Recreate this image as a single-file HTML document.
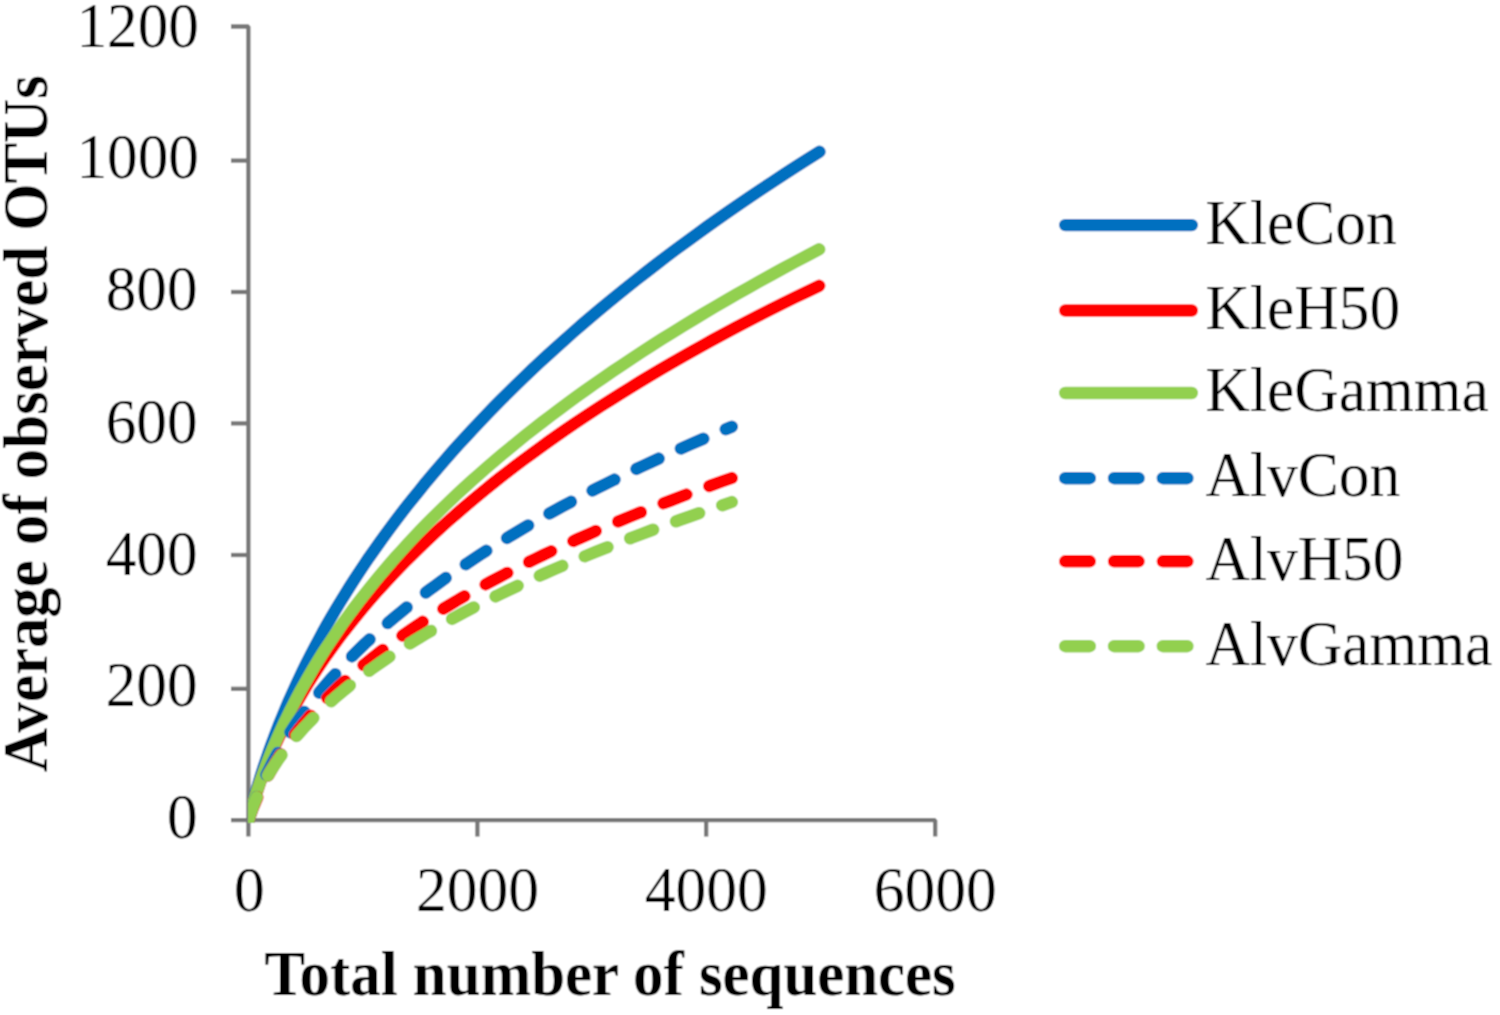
<!DOCTYPE html>
<html lang="en">
<head>
<meta charset="utf-8">
<title>Rarefaction curves</title>
<style>
html,body{margin:0;padding:0;background:#fff;}
body{width:1500px;height:1015px;overflow:hidden;}
svg{display:block;}
#chart{width:1500px;height:1015px;}
svg text{font-family:"Liberation Serif",serif;font-size:61.2px;fill:#000;stroke:none;}
svg text.t{font-weight:bold;font-size:60.85px;}
svg text.l{font-size:61.5px;}

</style>
</head>
<body>
<div id="chart">
<svg width="1500" height="1015" viewBox="0 0 1500 1015">
<defs><filter id="soft" x="0" y="0" width="1500" height="1015" filterUnits="userSpaceOnUse"><feConvolveMatrix order="3" kernelMatrix="0.0625 0.1250 0.0625 0.1250 0.2500 0.1250 0.0625 0.1250 0.0625" divisor="1" edgeMode="duplicate" preserveAlpha="true"/></filter></defs>
<rect width="1500" height="1015" fill="#fff"/>
<g filter="url(#soft)">
<rect width="1500" height="1015" fill="#fff"/>
<g fill="none" stroke="#777777" stroke-width="4.3" stroke-linejoin="bevel">
<path d="M231,26.5 H248.4 V836.6"/>
<path d="M231,820.2 H935.2 V836.6"/>
<path d="M231,160.6 H248.4"/>
<path d="M231,292.0 H248.4"/>
<path d="M231,423.4 H248.4"/>
<path d="M231,555.0 H248.4"/>
<path d="M231,688.8 H248.4"/>
<path d="M477.4,820.2 V836.6"/>
<path d="M706.2,820.2 V836.6"/>
</g>
<clipPath id="pa"><rect x="248.1" y="0" width="760" height="823"/></clipPath>
<g fill="none" stroke-width="12.4" stroke-linecap="round" stroke-linejoin="round" clip-path="url(#pa)">
<path d="M248.4,820.2 L250.3,812.7 L252.3,805.2 L254.3,797.7 L256.5,790.2 L258.7,782.6 L261.0,775.1 L263.4,767.6 L266.0,760.1 L268.5,752.6 L271.2,745.1 L274.0,737.6 L276.9,730.1 L279.8,722.6 L282.9,715.1 L286.0,707.5 L289.2,700.0 L292.6,692.5 L296.0,685.0 L299.5,677.5 L303.1,670.0 L306.8,662.5 L310.6,655.0 L314.5,647.5 L318.6,640.0 L322.6,632.4 L326.8,624.9 L331.1,617.4 L335.5,609.9 L340.0,602.4 L344.6,594.9 L349.3,587.4 L354.1,579.9 L359.0,572.4 L364.0,564.9 L369.1,557.3 L374.4,549.8 L379.7,542.3 L385.1,534.8 L390.6,527.3 L396.3,519.8 L402.0,512.3 L407.8,504.8 L413.8,497.3 L419.9,489.8 L426.0,482.2 L432.3,474.7 L438.7,467.2 L445.2,459.7 L451.8,452.2 L458.5,444.7 L465.4,437.2 L472.3,429.7 L479.4,422.2 L486.5,414.7 L493.8,407.1 L501.2,399.6 L508.8,392.1 L516.4,384.6 L524.2,377.1 L532.1,369.6 L540.1,362.1 L548.2,354.6 L556.5,347.1 L564.9,339.6 L573.4,332.0 L582.0,324.5 L590.8,317.0 L599.7,309.5 L608.8,302.0 L618.0,294.5 L627.3,287.0 L636.7,279.5 L646.3,272.0 L656.0,264.5 L665.9,256.9 L675.9,249.4 L686.1,241.9 L696.4,234.4 L706.8,226.9 L717.4,219.4 L728.1,211.9 L739.0,204.4 L750.0,196.9 L761.2,189.4 L772.6,181.8 L784.1,174.3 L795.7,166.8 L807.5,159.3 L819.5,151.8" stroke="#0070C0"/>
<path d="M248.4,820.2 L250.0,814.2 L251.8,808.2 L253.6,802.2 L255.5,796.2 L257.5,790.2 L259.5,784.2 L261.7,778.2 L263.9,772.2 L266.3,766.2 L268.7,760.2 L271.2,754.2 L273.8,748.1 L276.6,742.1 L279.4,736.1 L282.3,730.1 L285.2,724.1 L288.3,718.1 L291.5,712.1 L294.8,706.1 L298.2,700.1 L301.7,694.1 L305.3,688.1 L308.9,682.1 L312.7,676.1 L316.6,670.1 L320.6,664.1 L324.7,658.1 L328.9,652.1 L333.2,646.1 L337.6,640.1 L342.1,634.1 L346.8,628.1 L351.5,622.1 L356.4,616.0 L361.3,610.0 L366.4,604.0 L371.6,598.0 L376.9,592.0 L382.3,586.0 L387.8,580.0 L393.4,574.0 L399.2,568.0 L405.0,562.0 L411.0,556.0 L417.1,550.0 L423.3,544.0 L429.7,538.0 L436.1,532.0 L442.7,526.0 L449.4,520.0 L456.3,514.0 L463.2,508.0 L470.3,502.0 L477.5,496.0 L484.8,490.0 L492.3,483.9 L499.8,477.9 L507.6,471.9 L515.4,465.9 L523.4,459.9 L531.5,453.9 L539.7,447.9 L548.1,441.9 L556.6,435.9 L565.2,429.9 L574.0,423.9 L583.0,417.9 L592.1,411.9 L601.3,405.9 L610.7,399.9 L620.2,393.9 L629.9,387.9 L639.7,381.9 L649.7,375.9 L659.8,369.9 L670.1,363.9 L680.6,357.9 L691.2,351.8 L702.0,345.8 L712.9,339.8 L724.1,333.8 L735.3,327.8 L746.8,321.8 L758.4,315.8 L770.2,309.8 L782.2,303.8 L794.3,297.8 L806.7,291.8 L819.2,285.8" stroke="#FF0000"/>
<path d="M248.4,820.2 L250.2,813.8 L252.1,807.4 L254.0,801.0 L256.0,794.5 L258.1,788.1 L260.3,781.7 L262.6,775.3 L265.0,768.9 L267.4,762.5 L269.9,756.1 L272.5,749.6 L275.2,743.2 L278.0,736.8 L280.9,730.4 L283.8,724.0 L286.9,717.6 L290.0,711.2 L293.3,704.7 L296.6,698.3 L300.0,691.9 L303.6,685.5 L307.2,679.1 L310.9,672.7 L314.7,666.2 L318.6,659.8 L322.6,653.4 L326.7,647.0 L331.0,640.6 L335.3,634.2 L339.7,627.8 L344.2,621.3 L348.9,614.9 L353.6,608.5 L358.5,602.1 L363.4,595.7 L368.5,589.3 L373.7,582.9 L379.0,576.4 L384.4,570.0 L389.9,563.6 L395.5,557.2 L401.3,550.8 L407.1,544.4 L413.1,538.0 L419.2,531.5 L425.4,525.1 L431.8,518.7 L438.2,512.3 L444.8,505.9 L451.5,499.5 L458.3,493.1 L465.3,486.6 L472.4,480.2 L479.6,473.8 L486.9,467.4 L494.4,461.0 L502.0,454.6 L509.7,448.2 L517.6,441.7 L525.5,435.3 L533.7,428.9 L541.9,422.5 L550.3,416.1 L558.8,409.7 L567.5,403.3 L576.3,396.8 L585.3,390.4 L594.3,384.0 L603.6,377.6 L612.9,371.2 L622.4,364.8 L632.1,358.3 L641.9,351.9 L651.8,345.5 L661.9,339.1 L672.2,332.7 L682.6,326.3 L693.1,319.9 L703.8,313.4 L714.6,307.0 L725.6,300.6 L736.8,294.2 L748.1,287.8 L759.5,281.4 L771.1,275.0 L782.9,268.5 L794.8,262.1 L806.9,255.7 L819.2,249.3" stroke="#92D050"/>
<path d="M248.4,820.2 L249.9,815.8 L251.4,811.4 L253.0,806.9 L254.6,802.5 L256.3,798.1 L258.1,793.7 L260.0,789.3 L261.9,784.8 L263.9,780.4 L265.9,776.0 L268.1,771.6 L270.3,767.1 L272.6,762.7 L274.9,758.3 L277.4,753.9 L279.9,749.5 L282.4,745.0 L285.1,740.6 L287.8,736.2 L290.7,731.8 L293.6,727.4 L296.6,722.9 L299.6,718.5 L302.8,714.1 L306.0,709.7 L309.3,705.2 L312.7,700.8 L316.2,696.4 L319.8,692.0 L323.5,687.6 L327.2,683.1 L331.1,678.7 L335.1,674.3 L339.1,669.9 L343.2,665.5 L347.5,661.0 L351.8,656.6 L356.2,652.2 L360.7,647.8 L365.3,643.3 L370.1,638.9 L374.9,634.5 L379.8,630.1 L384.8,625.7 L389.9,621.2 L395.2,616.8 L400.5,612.4 L405.9,608.0 L411.5,603.6 L417.1,599.1 L422.9,594.7 L428.8,590.3 L434.8,585.9 L440.9,581.4 L447.1,577.0 L453.4,572.6 L459.8,568.2 L466.4,563.8 L473.1,559.3 L479.8,554.9 L486.8,550.5 L493.8,546.1 L500.9,541.7 L508.2,537.2 L515.6,532.8 L523.1,528.4 L530.7,524.0 L538.5,519.5 L546.4,515.1 L554.4,510.7 L562.5,506.3 L570.8,501.9 L579.2,497.4 L587.7,493.0 L596.3,488.6 L605.1,484.2 L614.1,479.8 L623.1,475.3 L632.3,470.9 L641.6,466.5 L651.1,462.1 L660.7,457.6 L670.4,453.2 L680.3,448.8 L690.3,444.4 L700.5,440.0 L710.8,435.5 L721.2,431.1 L731.8,426.7" stroke="#0070C0" stroke-dasharray="24.6 24.3"/>
<path d="M248.4,820.2 L249.7,816.4 L251.2,812.5 L252.6,808.7 L254.2,804.8 L255.8,801.0 L257.4,797.1 L259.2,793.3 L261.0,789.4 L262.9,785.6 L264.8,781.8 L266.9,777.9 L269.0,774.1 L271.1,770.2 L273.4,766.4 L275.7,762.5 L278.1,758.7 L280.6,754.8 L283.2,751.0 L285.8,747.1 L288.6,743.3 L291.4,739.5 L294.3,735.6 L297.3,731.8 L300.3,727.9 L303.5,724.1 L306.7,720.2 L310.0,716.4 L313.5,712.5 L317.0,708.7 L320.6,704.9 L324.3,701.0 L328.1,697.2 L331.9,693.3 L335.9,689.5 L340.0,685.6 L344.2,681.8 L348.5,677.9 L352.8,674.1 L357.3,670.2 L361.9,666.4 L366.6,662.6 L371.3,658.7 L376.2,654.9 L381.2,651.0 L386.3,647.2 L391.5,643.3 L396.9,639.5 L402.3,635.6 L407.8,631.8 L413.5,628.0 L419.2,624.1 L425.1,620.3 L431.1,616.4 L437.2,612.6 L443.4,608.7 L449.8,604.9 L456.2,601.0 L462.8,597.2 L469.5,593.3 L476.3,589.5 L483.3,585.7 L490.4,581.8 L497.6,578.0 L504.9,574.1 L512.3,570.3 L519.9,566.4 L527.6,562.6 L535.5,558.7 L543.4,554.9 L551.5,551.1 L559.8,547.2 L568.1,543.4 L576.6,539.5 L585.3,535.7 L594.0,531.8 L602.9,528.0 L612.0,524.1 L621.2,520.3 L630.5,516.4 L640.0,512.6 L649.6,508.8 L659.4,504.9 L669.3,501.1 L679.3,497.2 L689.5,493.4 L699.9,489.5 L710.4,485.7 L721.0,481.8 L731.8,478.0" stroke="#FF0000" stroke-dasharray="24.6 24.3"/>
<path d="M248.4,820.2 L249.5,816.6 L250.7,813.0 L252.0,809.5 L253.3,805.9 L254.7,802.3 L256.2,798.7 L257.8,795.2 L259.5,791.6 L261.2,788.0 L263.1,784.4 L265.0,780.9 L267.0,777.3 L269.1,773.7 L271.3,770.1 L273.5,766.6 L275.9,763.0 L278.3,759.4 L280.9,755.8 L283.5,752.3 L286.2,748.7 L289.0,745.1 L291.9,741.5 L294.9,738.0 L298.0,734.4 L301.2,730.8 L304.4,727.2 L307.8,723.7 L311.3,720.1 L314.8,716.5 L318.5,712.9 L322.2,709.4 L326.1,705.8 L330.0,702.2 L334.1,698.6 L338.3,695.1 L342.5,691.5 L346.9,687.9 L351.3,684.3 L355.9,680.8 L360.6,677.2 L365.4,673.6 L370.2,670.0 L375.2,666.5 L380.3,662.9 L385.5,659.3 L390.9,655.7 L396.3,652.2 L401.8,648.6 L407.5,645.0 L413.2,641.4 L419.1,637.9 L425.1,634.3 L431.2,630.7 L437.4,627.1 L443.7,623.6 L450.1,620.0 L456.7,616.4 L463.3,612.8 L470.1,609.3 L477.0,605.7 L484.1,602.1 L491.2,598.5 L498.5,595.0 L505.9,591.4 L513.4,587.8 L521.0,584.2 L528.7,580.7 L536.6,577.1 L544.6,573.5 L552.8,569.9 L561.0,566.4 L569.4,562.8 L577.9,559.2 L586.5,555.6 L595.3,552.1 L604.2,548.5 L613.2,544.9 L622.3,541.3 L631.6,537.8 L641.0,534.2 L650.6,530.6 L660.3,527.0 L670.1,523.5 L680.0,519.9 L690.1,516.3 L700.3,512.7 L710.7,509.2 L721.2,505.6 L731.8,502.0" stroke="#92D050" stroke-dasharray="24.6 24.3"/>
</g>
<g>
<text transform="translate(198.9,46.6) scale(1,1.03)" text-anchor="end">1200</text>
<text transform="translate(198.9,178.1) scale(1,1.03)" text-anchor="end">1000</text>
<text transform="translate(197.5,309.6) scale(1,1.03)" text-anchor="end">800</text>
<text transform="translate(197.5,443.3) scale(1,1.03)" text-anchor="end">600</text>
<text transform="translate(197.5,574.8) scale(1,1.03)" text-anchor="end">400</text>
<text transform="translate(197.5,706.3) scale(1,1.03)" text-anchor="end">200</text>
<text transform="translate(197.5,838.3) scale(1,1.03)" text-anchor="end">0</text>
</g>
<g>
<text transform="translate(249.4,910.6) scale(1,1.03)" text-anchor="middle" class="l">0</text>
<text transform="translate(477.4,910.6) scale(1,1.03)" text-anchor="middle" class="l">2000</text>
<text transform="translate(706.2,910.6) scale(1,1.03)" text-anchor="middle" class="l">4000</text>
<text transform="translate(935.2,910.6) scale(1,1.03)" text-anchor="middle" class="l">6000</text>
</g>
<text class="t" transform="translate(610.2,995.3) scale(1,1.03)" text-anchor="middle">Total number of sequences</text>
<text class="t" transform="translate(46.7,423.6) rotate(-90) scale(1,1.03)" text-anchor="middle">Average of observed OTUs</text>
<g fill="none" stroke-width="12.4" stroke-linecap="round">
<path d="M1065.2,225.1 H1191.8" stroke="#0070C0"/>
<text transform="translate(1205.5,243.8) scale(1,1.03)" class="l">KleCon</text>
<path d="M1065.2,310.5 H1191.8" stroke="#FF0000"/>
<text transform="translate(1205.5,328.8) scale(1,1.03)" class="l">KleH50</text>
<path d="M1065.2,393.0 H1191.8" stroke="#92D050"/>
<text transform="translate(1205.5,411.4) scale(1,1.03)" class="l">KleGamma</text>
<path d="M1065.2,478.2 H1191.8" stroke="#0070C0" stroke-dasharray="24.6 24.2"/>
<text transform="translate(1205.5,496.4) scale(1,1.03)" class="l">AlvCon</text>
<path d="M1065.2,561.3 H1191.8" stroke="#FF0000" stroke-dasharray="24.6 24.2"/>
<text transform="translate(1205.5,579.8) scale(1,1.03)" class="l">AlvH50</text>
<path d="M1065.2,646.2 H1191.8" stroke="#92D050" stroke-dasharray="24.6 24.2"/>
<text transform="translate(1205.5,664.8) scale(1,1.03)" class="l">AlvGamma</text>
</g>
</g>
</svg>
</div>
</body>
</html>
